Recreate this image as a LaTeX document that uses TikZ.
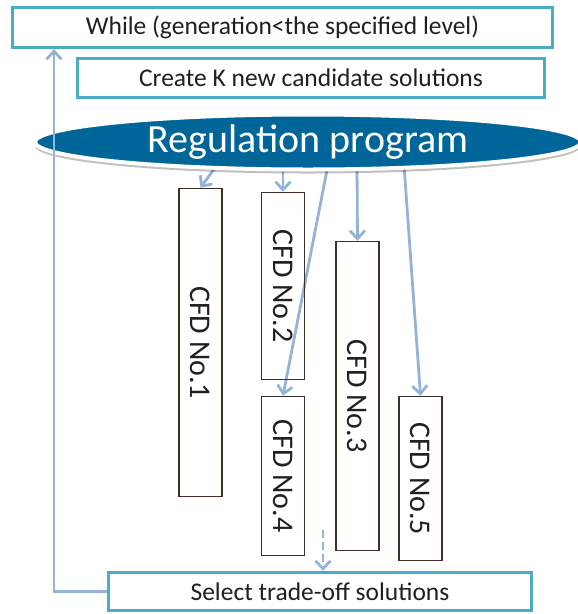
\documentclass[tikz,border=0pt]{standalone}
\usepackage{fontspec}
\setmainfont{Carlito}
\usetikzlibrary{shapes.geometric,arrows.meta,shadows,backgrounds}
\definecolor{boxcyan}{RGB}{75,172,198}
\definecolor{arrblue}{RGB}{149,179,215}
\definecolor{regblue}{RGB}{0,102,153}
\definecolor{txt}{RGB}{35,31,32}
\definecolor{cfdline}{RGB}{60,48,40}
\begin{document}
\begin{tikzpicture}[x=1pt,y=-1pt,
  cyanbox/.style={draw=boxcyan, line width=3.4pt, fill=white, inner sep=0pt,
    font=\fontsize{25.5}{30}\selectfont, text=txt},
  cfdbox/.style={draw=cfdline, line width=1.5pt, inner sep=0pt,
    minimum width=43pt, font=\fontsize{30}{36}\selectfont, text=txt},
  arr/.style={draw=arrblue, line width=2.8pt, -{Straight Barb[length=8pt,width=15pt]}},
  dasharr/.style={arr, dash pattern=on 8pt off 4pt},
  regell/.style={ellipse, fill=regblue, draw=white, line width=4pt, inner sep=0pt,
    minimum width=546pt, minimum height=55pt, text=white,
    font=\fontsize{40}{48}\selectfont,
    drop shadow={shadow xshift=0pt, shadow yshift=-4pt, opacity=0.25, fill=black}}
]
\useasboundingbox (0,0) rectangle (578,614);

\node[cyanbox, minimum width=540pt, minimum height=40pt] (while) at (282.5,27.5)
  {While (generation<the specified level)};
\node[cyanbox, minimum width=467pt, minimum height=39pt] (create) at (311,78)
  {Create K new candidate solutions};
\node[regell] (reg) at (308,142) {Regulation program};

\node[cfdbox, minimum height=308pt] (c1) at (200.5,342.5) {\rotatebox{-90}{CFD No.1}};
\node[cfdbox, minimum height=187pt] (c2) at (283,286) {\rotatebox{-90}{CFD No.2}};
\node[cfdbox, minimum height=309pt] (c3) at (357.5,396) {\rotatebox{-90}{CFD No.3}};
\node[cfdbox, minimum height=159pt] (c4) at (283,476) {\rotatebox{-90}{CFD No.4}};
\node[cfdbox, minimum height=164pt] (c5) at (420.5,478.5) {\rotatebox{-90}{CFD No.5}};

\node[cyanbox, minimum width=423pt, minimum height=38pt] (sel) at (320,591.5)
  {Select trade-off solutions};

\coordinate (s1) at (217,165);
\coordinate (s2) at (283,165);
\coordinate (s3) at (328,165);
\coordinate (s4) at (357,165);
\coordinate (s5) at (404,165);
\coordinate (lx) at (54,300);
\coordinate (d0) at (323,530);

\begin{pgfonlayer}{background}
\draw[arr] (s1) -- (c1.north);
\draw[arr] (s2) -- (c2.north);
\draw[arr] (s3) -- (c4.north);
\draw[arr] (s4) -- (c3.north);
\draw[arr] (s5) -- (c5.north);
\end{pgfonlayer}

\draw[arr] (sel.west) -| (lx |- while.south);
\draw[dasharr] (d0) -- (d0 |- sel.north);
\end{tikzpicture}
\end{document}
